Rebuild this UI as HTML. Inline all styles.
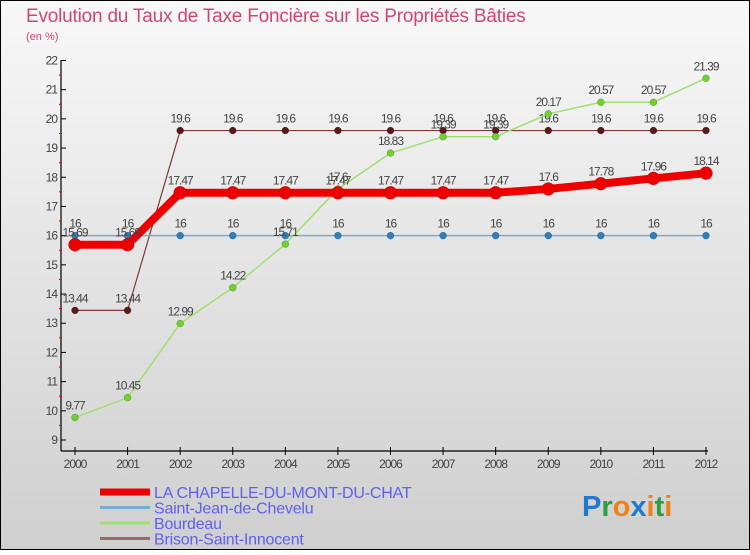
<!DOCTYPE html>
<html><head><meta charset="utf-8"><style>
html,body{margin:0;padding:0}
body{width:750px;height:550px;overflow:hidden;font-family:"Liberation Sans",sans-serif}
</style></head><body>
<svg id="chart" width="750" height="550" xmlns="http://www.w3.org/2000/svg">
<defs><linearGradient id="bg" x1="0" y1="0" x2="0" y2="1"><stop offset="0" stop-color="#f8f8f8"/><stop offset="1" stop-color="#cfcfcf"/></linearGradient></defs>
<rect x="0.5" y="0.5" width="749" height="549" fill="url(#bg)" stroke="#000" stroke-width="1"/>
<text x="26" y="22" font-size="19" fill="#d2466e" letter-spacing="-0.2">Evolution du Taux de Taxe Foncière sur les Propriétés Bâties</text>
<text x="26" y="40" font-size="11" fill="#d2466e">(en %)</text>
<g id="axes"></g><g id="series"></g><g id="legend"></g>
<text x="582" y="516" font-size="29" font-weight="bold"><tspan fill="#1e7ad0">P</tspan><tspan fill="#2aa040">r</tspan><tspan fill="#f08010">o</tspan><tspan fill="#1e7ad0">x</tspan><tspan fill="#f08010">i</tspan><tspan fill="#2aa040">t</tspan><tspan fill="#f08010">i</tspan></text>
</svg>
<script>
const years=[2000,2001,2002,2003,2004,2005,2006,2007,2008,2009,2010,2011,2012];
const yTicks=[9,10,11,12,13,14,15,16,17,18,19,20,21,22];
const chapelle=[15.69,15.69,17.47,17.47,17.47,17.47,17.47,17.47,17.47,17.6,17.78,17.96,18.14];
const chapelleLbl=["15.69","15.69","17.47","17.47","17.47","17.47","17.47","17.47","17.47","17.6","17.78","17.96","18.14"];
const stjean=[16,16,16,16,16,16,16,16,16,16,16,16,16];
const bourdeau=[9.77,10.45,12.99,14.22,15.71,17.6,18.83,19.39,19.39,20.17,20.57,20.57,21.39];
const brison=[13.44,13.44,19.6,19.6,19.6,19.6,19.6,19.6,19.6,19.6,19.6,19.6,19.6];
const names=["LA CHAPELLE-DU-MONT-DU-CHAT","Saint-Jean-de-Chevelu","Bourdeau","Brison-Saint-Innocent"];
const NS="http://www.w3.org/2000/svg";
const X=i=>75+i*(706-75)/(years.length-1);
const Y=v=>440-(v-9)*(440-60.5)/13;
function mk(tag,attrs,parent){const e=document.createElementNS(NS,tag);for(const k in attrs)e.setAttribute(k,attrs[k]);parent.appendChild(e);return e;}
const ax=document.getElementById('axes');
let e=mk('line',{x1:61,y1:60,x2:61,y2:451,stroke:'#000','stroke-width':1.2},ax);


e=mk('line',{x1:61,y1:451,x2:708,y2:451,stroke:'#000','stroke-width':1.2},ax);


yTicks.forEach(t=>{
 mk('line',{x1:61,y1:Y(t),x2:66,y2:Y(t),stroke:'#000'},ax);
 if(t<22)mk('line',{x1:59,y1:Y(t+0.5),x2:62,y2:Y(t+0.5),stroke:'#e00'},ax);
 const tx=mk('text',{x:57,y:Y(t)+4,'font-size':12,'text-anchor':'end',fill:'#444','letter-spacing':'-1'},ax);tx.textContent=t;
 
 
});
years.forEach((y,i)=>{
 mk('line',{x1:X(i),y1:447,x2:X(i),y2:455,stroke:'#000'},ax);
 const tx=mk('text',{x:X(i),y:468,'font-size':12,'text-anchor':'middle',fill:'#444','letter-spacing':'-1'},ax);tx.textContent=y;
 
 
});
const sg=document.getElementById('series');
function series(vals,lbls,color,dot,w,r,name){
 const g=mk('g',{},sg);
 
 
 mk('polyline',{points:vals.map((v,i)=>X(i)+','+Y(v)).join(' '),fill:'none',stroke:color,'stroke-width':w,'stroke-linejoin':'round'},g);
 vals.forEach((v,i)=>{
  const c=mk('circle',{cx:X(i),cy:Y(v),r:r,fill:dot,stroke:'rgba(0,0,0,0.3)','stroke-width':0.5},g);
  
  
  const t=mk('text',{x:X(i),y:Y(v)-8,'font-size':12,'text-anchor':'middle',fill:'#444','letter-spacing':'-1'},g);
  t.textContent=lbls?lbls[i]:String(v);
  
  
 });
}
series(brison,null,'#7a3a3a','#5a1a1a',1.2,3.5,'brison-series');
series(stjean,null,'#7aaad0','#2a80c0',1.5,3.5,'saint-jean-series');
series(bourdeau,null,'#a0e070','#70d030',1.5,3.5,'bourdeau-series');
series(chapelle,chapelleLbl,'#ee0000','#ee0000',8,6.5,'chapelle-series');
const lg=document.getElementById('legend');
const lc=['#ee0000','#7aaad0','#a0e070','#9a6a6a'],lw=[7,3,3,3];
names.forEach((n,i)=>{
 const y=492+i*15.5;
 const g=mk('g',{},lg);
 
 
 mk('line',{x1:100,y1:y,x2:150,y2:y,stroke:lc[i],'stroke-width':lw[i]},g);
 const t=mk('text',{x:154,y:y+6,'font-size':16,fill:'#6060f0','letter-spacing':'-0.2'},g);t.textContent=n;
});
</script>
</body></html>
